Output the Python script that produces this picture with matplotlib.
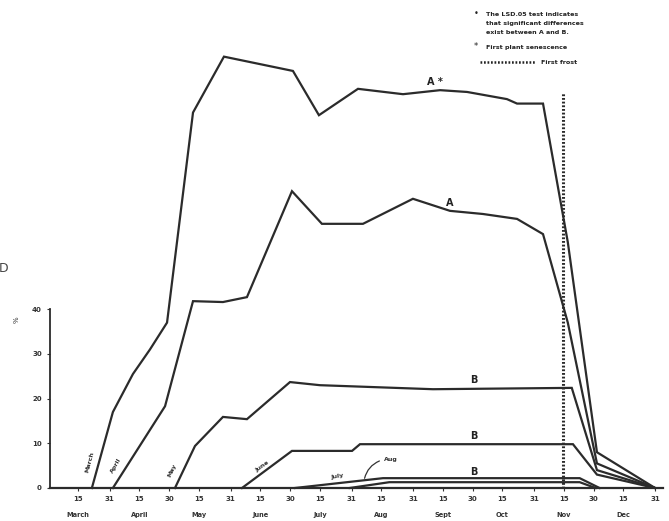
import matplotlib
matplotlib.use("Agg")
import matplotlib.pyplot as plt

# ---------------- data (day of year, value) ----------------
march_doy = [81, 91.6, 101.7, 110.3, 118.9, 132, 147.6, 182.4, 195.5, 215.2, 237.9, 256.6, 270.2, 290.3, 295.4, 308.5, 321, 335.7, 365]
march_val = [0, 17, 25.5, 31, 37, 84, 96.5, 93.3, 83.4, 89.3, 88.1, 89, 88.6, 87, 86, 86, 55, 8, 0]

april_doy = [91.6, 117.9, 132, 147.1, 159.2, 181.9, 197, 217.7, 242.9, 261.6, 278.2, 295.4, 308.5, 321, 335.7, 365]
april_val = [0, 18.3, 41.8, 41.6, 42.7, 66.4, 59.1, 59.1, 64.7, 62, 61.3, 60.2, 56.8, 37, 5.5, 0]

may_doy = [122.9, 133, 147.1, 159.2, 180.9, 196, 253, 323, 335.7, 365]
may_val = [0, 9.4, 15.9, 15.4, 23.7, 23, 22.1, 22.4, 4, 0]

june_doy = [156.7, 181.9, 212.2, 216.2, 323.6, 335.7, 365]
june_val = [0, 8.3, 8.3, 9.8, 9.8, 3, 0]

july_doy = [183.4, 227.8, 327, 337]
july_val = [0, 2.2, 2.2, 0]

aug_doy = [211, 231, 327, 335]
aug_val = [0, 1.3, 1.3, 0]

frost_doy = 318.6
frost_top = 88.5

xtick_doy = [74, 90, 105, 120, 135, 151, 166, 181, 196, 212, 227, 243, 258, 273, 288, 304, 319, 334, 349, 365]
xtick_labels = ["15", "31", "15", "30", "15", "31", "15", "30", "15", "31",
                "15", "31", "15", "30", "15", "31", "15", "30", "15", "31"]
month_names = ["March", "April", "May", "June", "July", "Aug", "Sept", "Oct", "Nov", "Dec"]
month_doy = [74, 105, 135, 166, 196, 227, 258, 288, 319, 349]
ytick_vals = [0, 10, 20, 30, 40]

# ---------------- layout helpers ----------------
W, H = 669, 521
fig = plt.figure(figsize=(W / 100, H / 100), dpi=100)

def px_x(doy):
    return 78 + (doy - 74) * 1.983

Y0 = 488.0      # pixel row of value 0
YS = 4.47       # pixels per unit
XMIN, XMAX = 60, 369
YMAX = 100

ax = fig.add_axes([px_x(XMIN) / W, (H - Y0) / H,
                   (px_x(XMAX) - px_x(XMIN)) / W, YMAX * YS / H])
ax.set_xlim(XMIN, XMAX)
ax.set_ylim(0, YMAX)

def ftext(x, y, s, **kw):
    fig.text(x / W, 1 - y / H, s, **kw)

LC = "#2b2b2b"
for d, v in [(march_doy, march_val), (april_doy, april_val), (may_doy, may_val),
             (june_doy, june_val), (july_doy, july_val), (aug_doy, aug_val)]:
    ax.plot(d, v, color=LC, lw=1.6, solid_joinstyle="miter", clip_on=False)

ax.plot([frost_doy, frost_doy], [0, frost_top], color=LC, lw=2.2,
        linestyle=(0, (0.6, 0.6)))

# spines / ticks
for s in ["top", "right"]:
    ax.spines[s].set_visible(False)
ax.spines["left"].set_bounds(0, 40)
ax.spines["left"].set_linewidth(1.3)
ax.spines["bottom"].set_linewidth(1.6)
ax.spines["left"].set_color(LC)
ax.spines["bottom"].set_color(LC)
ax.set_xticks(xtick_doy)
ax.set_xticklabels(xtick_labels, fontsize=5, fontweight="bold", color="#333")
ax.set_yticks(ytick_vals)
ax.set_yticklabels([str(v) for v in ytick_vals], fontsize=5, fontweight="bold", color="#333")
ax.tick_params(axis="both", direction="out", length=2, width=0.8, pad=4, colors="#333")
for m, d in zip(month_names, month_doy):
    ax.text(d, -6.0, m, ha="center", va="center", fontsize=4.8, fontweight="bold", color="#333")

# curve start labels
ftext(90, 462, "March", rotation=75, fontsize=4.5, fontweight="bold", ha="center", va="center", color="#333")
ftext(116, 466, "April", rotation=60, fontsize=4.5, fontweight="bold", ha="center", va="center", color="#333")
ftext(172, 470, "May", rotation=65, fontsize=4.5, fontweight="bold", ha="center", va="center", color="#333")
ftext(262, 466, "June", rotation=35, fontsize=4.5, fontweight="bold", ha="center", va="center", color="#333")
ftext(337, 476, "July", rotation=10, fontsize=4.5, fontweight="bold", ha="center", va="center", color="#333")
fig.add_artist(matplotlib.patches.FancyArrowPatch(
    (382 / W, 1 - 460 / H), (364 / W, 1 - 481 / H), transform=fig.transFigure,
    arrowstyle="-", connectionstyle="arc3,rad=0.3", lw=0.9, color="#333"))
ftext(391, 459, "Aug", fontsize=4.5, fontweight="bold", ha="center", va="center", color="#333")

# series labels
ftext(435, 82, "A *", fontsize=7, fontweight="bold", ha="center", va="center", color="#222")
ftext(450, 203, "A", fontsize=7, fontweight="bold", ha="center", va="center", color="#222")
for yy in [380, 436, 472]:
    ftext(474, yy, "B", fontsize=7, fontweight="bold", ha="center", va="center", color="#222")

# legend block
LF = dict(fontsize=4.6, fontweight="bold", color="#222", ha="left", va="center")
ftext(476, 13, "\u2022", fontsize=6, color="#222", ha="center", va="center")
ftext(486, 15, "The LSD.05 test indicates", **LF)
ftext(486, 24, "that significant differences", **LF)
ftext(486, 33, "exist between A and B.", **LF)
ftext(476, 46, "*", fontsize=6, color="#222", ha="center", va="center")
ftext(486, 48, "First plant senescence", **LF)
fig.add_artist(matplotlib.lines.Line2D([480 / W, 535 / W], [1 - 62 / H, 1 - 62 / H],
                                       transform=fig.transFigure, color="#222", lw=1.8,
                                       linestyle=(0, (0.7, 0.7))))
ftext(541, 62, "First frost", **LF)

# stray marks of the scan
ftext(17, 320, "%", rotation=90, fontsize=5, ha="center", va="center", color="#333")
ftext(4, 268, "D", fontsize=9, ha="center", va="center", color="#444")

fig.savefig("out.png", dpi=100, facecolor="white")
